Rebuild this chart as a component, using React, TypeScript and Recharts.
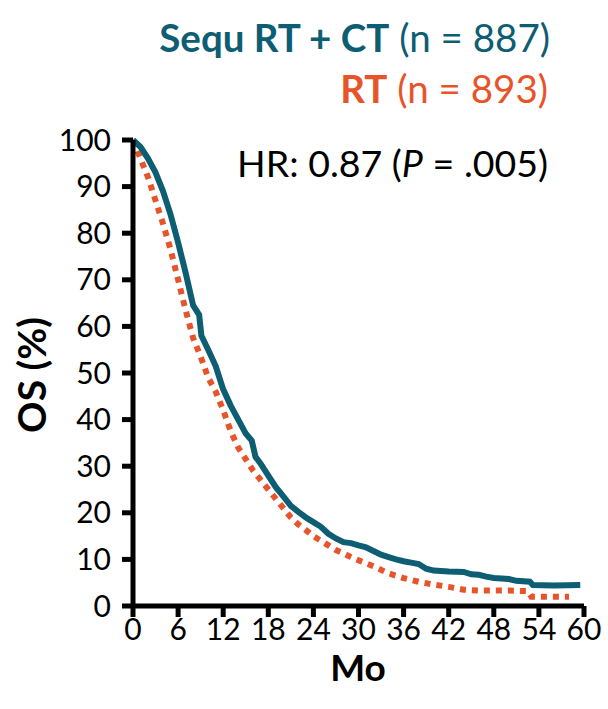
import React from "react";
import { LineChart, Line, XAxis, YAxis } from "recharts";

const monthTicks = [0, 6, 12, 18, 24, 30, 36, 42, 48, 54, 60];
const osTicks = [0, 10, 20, 30, 40, 50, 60, 70, 80, 90, 100];

const sequMonths = [0, 1, 2, 3, 4, 5, 6, 7, 8, 8.8, 9.1, 10, 11, 12, 13, 14, 15, 15.8, 16.3, 17, 18, 19, 20, 21, 22, 23, 24, 25, 26, 27, 28, 29, 30, 31, 32, 33, 34, 35, 36, 37, 38, 39, 40, 42, 44, 45, 46, 47, 48, 50, 51, 52.8, 53.2, 56, 59.5];
const sequOS = [100, 98.5, 96, 93, 89, 84, 78, 71.5, 64.5, 62.5, 58, 55, 51.5, 46.5, 43, 40, 37, 35.5, 32, 30.5, 28, 25.5, 23.5, 21.5, 20.2, 19, 18, 17, 15.5, 14.5, 13.7, 13.5, 13, 12.6, 11.8, 11, 10.5, 10, 9.6, 9.3, 9, 8, 7.6, 7.4, 7.3, 6.8, 6.7, 6.3, 6, 5.8, 5.4, 5.2, 4.5, 4.4, 4.5];

const rtMonths = [0, 1, 2, 3, 4, 5, 6, 7, 8, 9, 10, 11, 12, 13, 14, 15, 16, 17, 18, 19, 20, 21, 22, 23, 24, 25, 26, 27, 28, 29, 30, 32, 34, 36, 38, 40, 42, 44, 46, 48, 50, 52.5, 53, 58];
const rtOS = [100, 96, 92, 87, 82, 76.5, 70, 63.5, 57.5, 53.5, 49, 46, 42, 37.5, 34, 31.5, 29, 27, 25, 23, 21, 19, 17.5, 16.3, 15, 14, 13, 12, 11.3, 10.5, 9.8, 8.5, 7, 6, 5.2, 4.6, 4.1, 3.5, 3.3, 3.3, 3.3, 3.2, 2, 2];

const sequData = sequMonths.map((m, i) => ({ month: m, os: sequOS[i] }));
const rtData = rtMonths.map((m, i) => ({ month: m, os: rtOS[i] }));

const TEAL = "#0D5D73";
const ORANGE = "#E8542A";
const FONT = "Lato, 'Open Sans', sans-serif";

export default function App() {
  return (
    <div style={{ position: "absolute", left: 0, top: 0, width: 608, height: 709, background: "#fff" }}>
      <LineChart
        width={608}
        height={709}
        margin={{ top: 140, right: 24, bottom: 43, left: 63 }}
      >
        <XAxis
          type="number"
          dataKey="month"
          domain={[0, 60]}
          ticks={monthTicks}
          interval={0}
          height={60}
          axisLine={{ stroke: "#000", strokeWidth: 5 }}
          tickLine={{ stroke: "#000", strokeWidth: 5 }}
          tickSize={11}
          tickMargin={2}
          tick={{ fill: "#000", fontSize: 30, fontFamily: FONT }}
          allowDuplicatedCategory={false}
        />
        <YAxis
          type="number"
          dataKey="os"
          domain={[0, 100]}
          ticks={osTicks}
          interval={0}
          width={70}
          axisLine={{ stroke: "#000", strokeWidth: 5 }}
          tickLine={{ stroke: "#000", strokeWidth: 5 }}
          tickSize={11}
          tickMargin={11}
          tick={{ fill: "#000", fontSize: 30, fontFamily: FONT }}
        />
        <Line
          data={rtData}
          dataKey="os"
          type="linear"
          stroke={ORANGE}
          strokeWidth={6}
          strokeDasharray="6 6"
          dot={false}
          activeDot={false}
          isAnimationActive={false}
        />
        <Line
          data={sequData}
          dataKey="os"
          type="linear"
          stroke={TEAL}
          strokeWidth={6}
          dot={false}
          activeDot={false}
          isAnimationActive={false}
        />
      </LineChart>
      <svg
        width={608}
        height={709}
        style={{ position: "absolute", left: 0, top: 0, pointerEvents: "none" }}
      >
        <text x={550} y={52} textAnchor="end" fontSize={38.5} fontFamily={FONT} fill={TEAL}>
          <tspan fontWeight="bold">Sequ RT + CT</tspan>
          <tspan> (n = 887)</tspan>
        </text>
        <text x={548} y={103} textAnchor="end" fontSize={38.5} fontFamily={FONT} fill={ORANGE}>
          <tspan fontWeight="bold">RT</tspan>
          <tspan> (n = 893)</tspan>
        </text>
        <text x={548} y={177} textAnchor="end" fontSize={37.5} fontFamily={FONT} fill="#000">
          <tspan>HR: 0.87 (</tspan>
          <tspan fontStyle="italic">P</tspan>
          <tspan> = .005)</tspan>
        </text>
        <text x={358} y={681} textAnchor="middle" fontSize={37} fontWeight="bold" fontFamily={FONT} fill="#000">
          Mo
        </text>
        <text
          x={46}
          y={375}
          textAnchor="middle"
          fontSize={39}
          fontWeight="bold"
          fontFamily={FONT}
          fill="#000"
          transform="rotate(-90 46 375)"
        >
          OS (%)
        </text>
      </svg>
    </div>
  );
}
